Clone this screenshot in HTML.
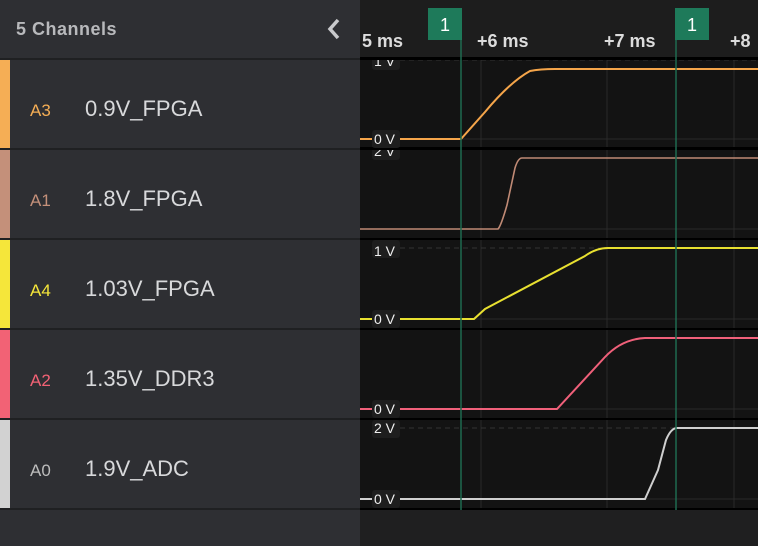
<!DOCTYPE html>
<html><head><style>
body{margin:0;width:758px;height:546px;overflow:hidden;background:#1f1f20;font-family:"Liberation Sans",sans-serif;position:relative}
.l{position:absolute;left:0;top:0;width:360px;height:546px;background:#2e2f33}
.hd{position:absolute;left:16px;top:19px;color:#b8b9bc;font-size:18px;font-weight:bold;letter-spacing:0.5px}
.row{position:absolute;left:0;width:360px;height:88px;background:#2e2f33;border-top:2px solid #1f2022}
.bar{position:absolute;left:0;top:0;width:10px;height:88px}
.id{position:absolute;left:30px;top:41px;font-size:17px}
.nm{position:absolute;left:85px;top:36px;font-size:22px;color:#d8d9db}
</style></head><body>
<div class="l">
<div class="hd">5 Channels</div>
<svg style="position:absolute;left:326px;top:18px" width="16" height="22"><path d="M12 2 L4 11 L12 20" stroke="#c8c9cc" stroke-width="3.5" fill="none"/></svg>
<div class="row" style="top:58px"><div class="bar" style="background:#f5ae55"></div><div class="id" style="color:#f5ae55">A3</div><div class="nm">0.9V_FPGA</div></div>
<div class="row" style="top:148px"><div class="bar" style="background:#c4907a"></div><div class="id" style="color:#c4907a">A1</div><div class="nm">1.8V_FPGA</div></div>
<div class="row" style="top:238px"><div class="bar" style="background:#f5e63a"></div><div class="id" style="color:#f5e63a">A4</div><div class="nm">1.03V_FPGA</div></div>
<div class="row" style="top:328px"><div class="bar" style="background:#f26275"></div><div class="id" style="color:#f26275">A2</div><div class="nm">1.35V_DDR3</div></div>
<div class="row" style="top:418px"><div class="bar" style="background:#d2d2d2"></div><div class="id" style="color:#bdbdbd">A0</div><div class="nm">1.9V_ADC</div></div>
<div style="position:absolute;left:0;top:508px;width:360px;height:2px;background:#1f2022"></div>
</div>
<svg style="position:absolute;left:360px;top:0" width="398" height="546" font-family="Liberation Sans,sans-serif">
<rect x="0" y="0" width="398" height="58" fill="#1d1d1d"/>
<rect x="0" y="58" width="398" height="452" fill="#131313"/>
<g stroke="#2a2a2a" stroke-width="1">
<line x1="121" y1="50" x2="121" y2="510"/><line x1="247" y1="50" x2="247" y2="510"/><line x1="374" y1="50" x2="374" y2="510"/>
<line x1="0" y1="139" x2="398" y2="139"/><line x1="0" y1="229" x2="398" y2="229"/><line x1="0" y1="319" x2="398" y2="319"/><line x1="0" y1="409" x2="398" y2="409"/><line x1="0" y1="499" x2="398" y2="499"/>
</g>
<g stroke="#333" stroke-dasharray="5,4"><line x1="40" y1="60" x2="398" y2="60"/><line x1="40" y1="248" x2="398" y2="248"/><line x1="40" y1="428" x2="398" y2="428"/></g>
<g fill="#1e1e1e"><rect x="12" y="52" width="28" height="18" rx="3"/><rect x="12" y="142" width="28" height="18" rx="3"/></g>
<g fill="#eee" font-size="14"><text x="14" y="66">1 V</text><text x="14" y="156">2 V</text></g>
<g fill="#000"><rect x="0" y="58" width="398" height="2"/><rect x="0" y="148" width="398" height="2"/><rect x="0" y="238" width="398" height="2"/><rect x="0" y="328" width="398" height="2"/><rect x="0" y="418" width="398" height="2"/><rect x="0" y="508" width="398" height="2"/></g>
<rect x="0" y="0" width="398" height="58" fill="#1d1d1d"/>
<rect x="0" y="57" width="398" height="3" fill="#000"/>
<rect x="0" y="147" width="398" height="3" fill="#000"/>
<g font-size="18" font-weight="bold" fill="#dcdcdc"><text x="2" y="47">5 ms</text><text x="117" y="47">+6 ms</text><text x="244" y="47">+7 ms</text><text x="370" y="47">+8</text></g>
<g fill="none" stroke-width="2">
<path d="M0 139 H101 L125 112 Q150 82 170 71 Q180 69 195 69 H398" stroke="#f5a54a"/>
<path d="M0 229 H138 Q141 226 147 205 L155 168 Q158 158 162 158 H398" stroke="#c08a75" stroke-width="1.6"/>
<path d="M0 319 H114 L125 309 L225 256 Q236 248 248 248 H398" stroke="#e8e030"/>
<path d="M0 409 H197 L245 357 Q262 339 285 338 H398" stroke="#f0607a"/>
<path d="M0 499 H285 L298 470 L306 440 Q311 428 317 428 H398" stroke="#cfcfcf"/>
</g>
<g stroke="#1e6b50" stroke-width="1.5"><line x1="101" y1="40" x2="101" y2="510"/><line x1="316" y1="40" x2="316" y2="510"/></g>
<rect x="68" y="8" width="34" height="32" fill="#1e7a5a"/><rect x="315" y="8" width="34" height="32" fill="#1e7a5a"/>
<g fill="#fff" font-size="18" text-anchor="middle"><text x="85" y="31">1</text><text x="332" y="31">1</text></g>
<g fill="#1e1e1e"><rect x="12" y="130" width="28" height="18" rx="3"/><rect x="12" y="310" width="28" height="18" rx="3"/><rect x="12" y="400" width="28" height="18" rx="3"/><rect x="12" y="490" width="28" height="18" rx="3"/><rect x="12" y="240" width="28" height="18" rx="3"/><rect x="12" y="420" width="28" height="18" rx="3"/></g>
<g fill="#eee" font-size="14"><text x="14" y="144">0 V</text><text x="14" y="324">0 V</text><text x="14" y="414">0 V</text><text x="14" y="504">0 V</text><text x="14" y="256">1 V</text><text x="14" y="433">2 V</text></g>
</svg>
</body></html>
